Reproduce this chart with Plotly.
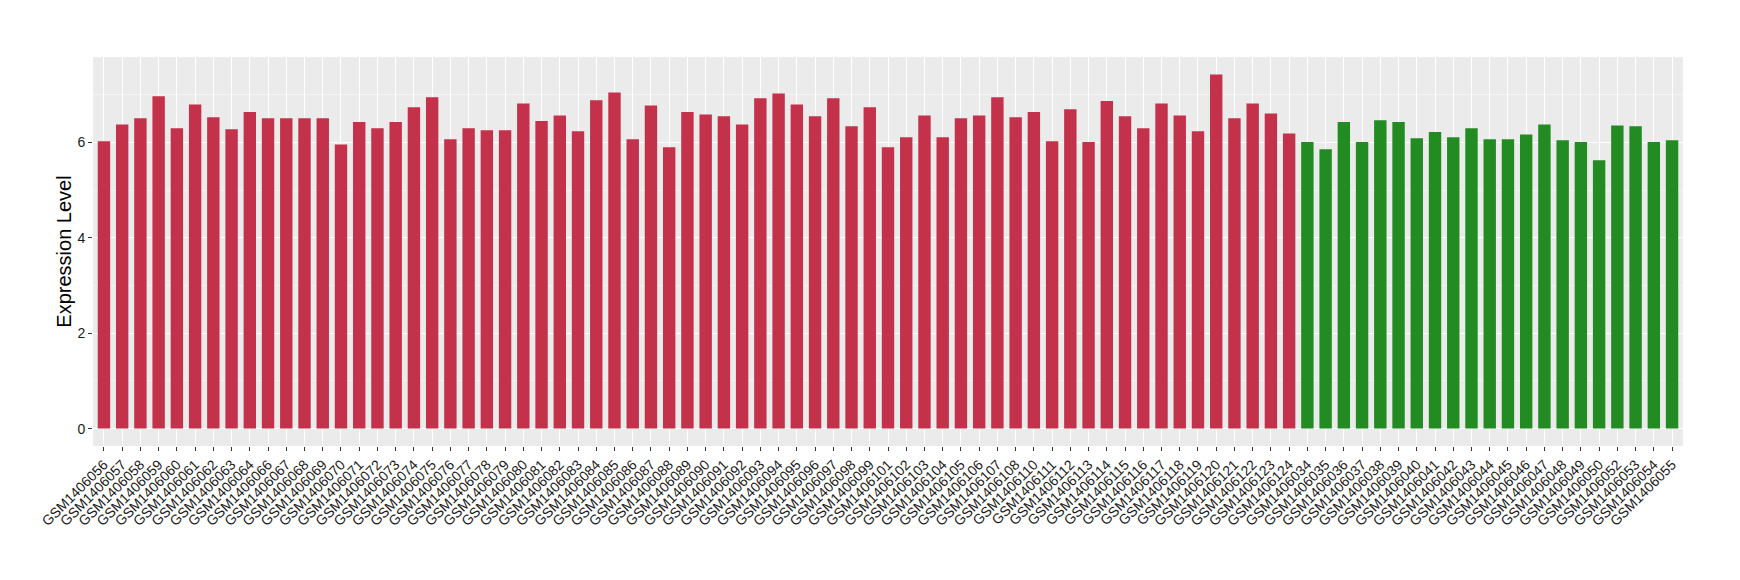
"""expression level per sample, two groups of GSM samples"""

import plotly.graph_objects as go

red_samples = [
    "GSM1406056", "GSM1406057", "GSM1406058", "GSM1406059", "GSM1406060",
    "GSM1406061", "GSM1406062", "GSM1406063", "GSM1406064", "GSM1406066",
    "GSM1406067", "GSM1406068", "GSM1406069", "GSM1406070", "GSM1406071",
    "GSM1406072", "GSM1406073", "GSM1406074", "GSM1406075", "GSM1406076",
    "GSM1406077", "GSM1406078", "GSM1406079", "GSM1406080", "GSM1406081",
    "GSM1406082", "GSM1406083", "GSM1406084", "GSM1406085", "GSM1406086",
    "GSM1406087", "GSM1406088", "GSM1406089", "GSM1406090", "GSM1406091",
    "GSM1406092", "GSM1406093", "GSM1406094", "GSM1406095", "GSM1406096",
    "GSM1406097", "GSM1406098", "GSM1406099", "GSM1406101", "GSM1406102",
    "GSM1406103", "GSM1406104", "GSM1406105", "GSM1406106", "GSM1406107",
    "GSM1406108", "GSM1406110", "GSM1406111", "GSM1406112", "GSM1406113",
    "GSM1406114", "GSM1406115", "GSM1406116", "GSM1406117", "GSM1406118",
    "GSM1406119", "GSM1406120", "GSM1406121", "GSM1406122", "GSM1406123",
    "GSM1406124",
]
red_values = [
    6.03, 6.38, 6.51, 6.97, 6.30, 6.80, 6.53, 6.28, 6.64, 6.51,
    6.51, 6.51, 6.51, 5.96, 6.43, 6.30, 6.43, 6.74, 6.95, 6.07,
    6.30, 6.26, 6.26, 6.82, 6.45, 6.57, 6.24, 6.89, 7.05, 6.07,
    6.78, 5.90, 6.64, 6.59, 6.55, 6.38, 6.93, 7.03, 6.80, 6.55,
    6.93, 6.34, 6.74, 5.90, 6.11, 6.57, 6.11, 6.51, 6.57, 6.95,
    6.53, 6.64, 6.03, 6.70, 6.01, 6.87, 6.55, 6.30, 6.82, 6.57,
    6.24, 7.43, 6.51, 6.82, 6.61, 6.19,
]

green_samples = [
    "GSM1406034", "GSM1406035", "GSM1406036", "GSM1406037", "GSM1406038",
    "GSM1406039", "GSM1406040", "GSM1406041", "GSM1406042", "GSM1406043",
    "GSM1406044", "GSM1406045", "GSM1406046", "GSM1406047", "GSM1406048",
    "GSM1406049", "GSM1406050", "GSM1406052", "GSM1406053", "GSM1406054",
    "GSM1406055",
]
green_values = [
    6.01, 5.86, 6.43, 6.01, 6.47, 6.43, 6.09, 6.22, 6.11, 6.30,
    6.07, 6.07, 6.17, 6.38, 6.05, 6.01, 5.63, 6.36, 6.34, 6.01,
    6.05,
]

red_color = '#C3314A'
green_color = '#228B22'

fig = go.Figure()

fig.add_trace(
    go.Bar(
        x=red_samples,
        y=red_values,
        width=0.68,
        marker=dict(color=red_color, line=dict(width=0)),
        showlegend=False,
    )
)
fig.add_trace(
    go.Bar(
        x=green_samples,
        y=green_values,
        width=0.68,
        marker=dict(color=green_color, line=dict(width=0)),
        showlegend=False,
    )
)

n_bars = len(red_samples) + len(green_samples)

# page body adds 8px all round, so the figure is 16px smaller than the window
fig.update_layout(
    width=1724,
    height=564,
    paper_bgcolor='white',
    plot_bgcolor='#EBEBEB',
    margin=dict(l=85, r=49, t=49, b=126, pad=0, autoexpand=False),
    font=dict(family='Liberation Sans, Arial, sans-serif', color='#333333'),
    barmode='overlay',
)

fig.update_xaxes(
    type='category',
    categoryorder='array',
    categoryarray=red_samples + green_samples,
    range=[-0.6, n_bars - 0.4],
    automargin=False,
    showgrid=True,
    gridcolor='white',
    gridwidth=1.1,
    zeroline=False,
    showline=False,
    ticks='outside',
    ticklen=4,
    tickwidth=1.1,
    tickcolor='#333333',
    tickangle=-45,
    tickfont=dict(size=14, color='#1A1A1A'),
)

fig.update_yaxes(
    range=[-0.365, 7.795],
    tick0=0,
    dtick=2,
    automargin=False,
    showgrid=True,
    gridcolor='white',
    gridwidth=1.1,
    minor=dict(dtick=1, tick0=0, showgrid=True, gridcolor='#F4F4F4', gridwidth=0.6),
    zeroline=False,
    showline=False,
    ticks='outside',
    ticklen=4,
    tickwidth=1.1,
    tickcolor='#333333',
    tickfont=dict(size=14, color='#1A1A1A'),
    title=dict(text='Expression Level', font=dict(size=20, color='black'), standoff=0),
)

fig.write_html("out.html")
